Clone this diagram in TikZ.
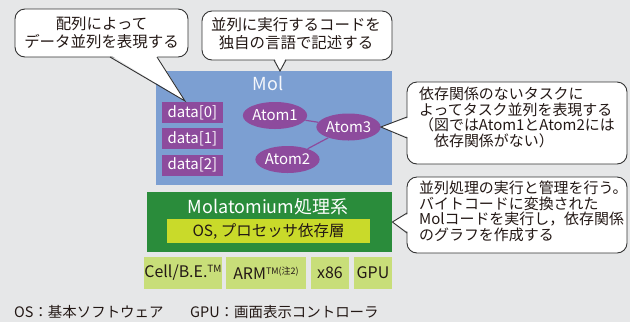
\documentclass[tikz,border=0pt]{standalone}
\usepackage{fontspec}
\setmainfont{Noto Sans CJK JP}
\usetikzlibrary{shapes.geometric}
\definecolor{bg}{HTML}{E6E7E8}
\definecolor{molblue}{HTML}{7C9FD2}
\definecolor{molpurple}{HTML}{8D4B9D}
\definecolor{molgreen}{HTML}{2A8C3B}
\definecolor{molyellow}{HTML}{C9DA2A}
\definecolor{hwgreen}{HTML}{C8DE79}
\definecolor{ink}{HTML}{231815}
\definecolor{lineink}{HTML}{333333}
\tikzset{
  fs/.style={font=\fontsize{#1}{#1}\selectfont},
  bubble/.style={fill=white, draw=lineink, line width=0.9bp, rounded corners=10bp},
  bubbletail/.style={draw=lineink, line width=0.9bp, line join=miter},
  btext/.style={text=ink, inner sep=0pt, font=\fontsize{15}{15.6}\selectfont},
  databox/.style={fill=molpurple, text=white, minimum width=61bp, minimum height=21bp, inner sep=0pt, font=\fontsize{15}{15}\selectfont},
  atom/.style={ellipse, fill=molpurple, text=white, minimum width=61bp, minimum height=27bp, inner sep=0pt, font=\fontsize{15}{15}\selectfont},
  hwbox/.style={fill=hwgreen, text=ink, minimum height=32bp, inner sep=0pt, font=\fontsize{16}{16}\selectfont},
  link/.style={draw=molpurple, line width=1.2bp},
}
\begin{document}
\begin{tikzpicture}[x=1bp,y=-1bp]
\useasboundingbox[fill=bg] (0,0) rectangle (630,322);

% Mol box
\node[fill=molblue, minimum width=236bp, minimum height=114bp, inner sep=0pt, anchor=north west] (mol) at (156,71) {};
\node[text=white!92!molblue, fs=18, inner sep=0pt] (mollabel) at (268,83) {Mol};
\node[databox] (d0) at (192.5,112.5) {data[0]};
\node[databox] (d1) at (192.5,138.5) {data[1]};
\node[databox] (d2) at (192.5,165) {data[2]};
\node[atom] (a1) at (275,115.5) {Atom1};
\node[atom] (a3) at (348.5,127) {Atom3};
\node[atom] (a2) at (287.5,159.5) {Atom2};
\draw[link] (a1) -- (a3);
\draw[link] (a2) -- (a3);

% runtime
\node[fill=molgreen, minimum width=245bp, minimum height=60bp, inner sep=0pt, anchor=north west] (rt) at (147,192) {};
\node[text=white, fs=18, inner sep=0pt] (rtlabel) at (268,207) {Molatomium処理系};
\node[fill=molyellow, text=ink, minimum width=203bp, minimum height=24bp, inner sep=0pt, fs=15.5] (osl) at (268.5,231) {OS, プロセッサ依存層};

% hardware
\node[hwbox, minimum width=76bp] (cell) at (183,273) {Cell/B.E.\raisebox{5.5bp}{\fontsize{10}{10}\selectfont TM}};
\node[hwbox, minimum width=80bp] (arm) at (266,273) {ARM\raisebox{5.5bp}{\fontsize{9}{9}\selectfont TM(注2)}};
\node[hwbox, minimum width=38bp] (x86) at (330,273) {x86};
\node[hwbox, minimum width=38bp] (gpu) at (373,273) {GPU};

% callout 1
\draw[bubble] (15,9) rectangle (188,57);
\coordinate (t1) at (185,101);
\fill[white] (110.5,55) -- (t1) -- (156.5,55) -- cycle;
\draw[bubbletail] (110,57) -- (t1) -- (157,57);
\node[btext, align=center, font=\fontsize{15.5}{18}\selectfont] (c1) at (101.5,33) {配列によって\\データ並列を表現する};

% callout 2
\draw[bubble] (202,11) rectangle (392,60);
\coordinate (t2) at (280,71);
\fill[white] (274.5,58) -- (t2) -- (285.5,58) -- cycle;
\draw[bubbletail] (274,60) -- (t2) -- (286,60);
\node[btext, align=center, font=\fontsize{15.5}{18}\selectfont] (c2) at (296,34) {並列に実行するコードを\\独自の言語で記述する};

% callout 3
\draw[bubble] (407,82) rectangle (627,164);
\fill[white] (409,117.5) -- (a3.east) -- (409,137.5) -- cycle;
\draw[bubbletail] (407,117) -- (a3.east) -- (407,138);
\node[btext, align=left, anchor=north west] (c3) at (419,87) {依存関係のないタスクに\\よってタスク並列を表現する\\（図ではAtom1とAtom2には\\　依存関係がない）};

% callout 4
\draw[bubble] (407,177) rectangle (627,253);
\coordinate (t4) at (rt.east |- 0,222);
\fill[white] (409,213.5) -- (t4) -- (409,232.5) -- cycle;
\draw[bubbletail] (407,213) -- (t4) -- (407,233);
\node[btext, align=left, anchor=north west] (c4) at (419,181) {並列処理の実行と管理を行う。\\バイトコードに変換された\\Molコードを実行し，依存関係\\のグラフを作成する};

% footer
\node[text=ink, fs=14.5, inner sep=0pt, anchor=west] (f1) at (14,312) {OS：基本ソフトウェア};
\node[text=ink, fs=14.5, inner sep=0pt, anchor=west] (f2) at (190,312) {GPU：画面表示コントローラ};
\end{tikzpicture}
\end{document}
